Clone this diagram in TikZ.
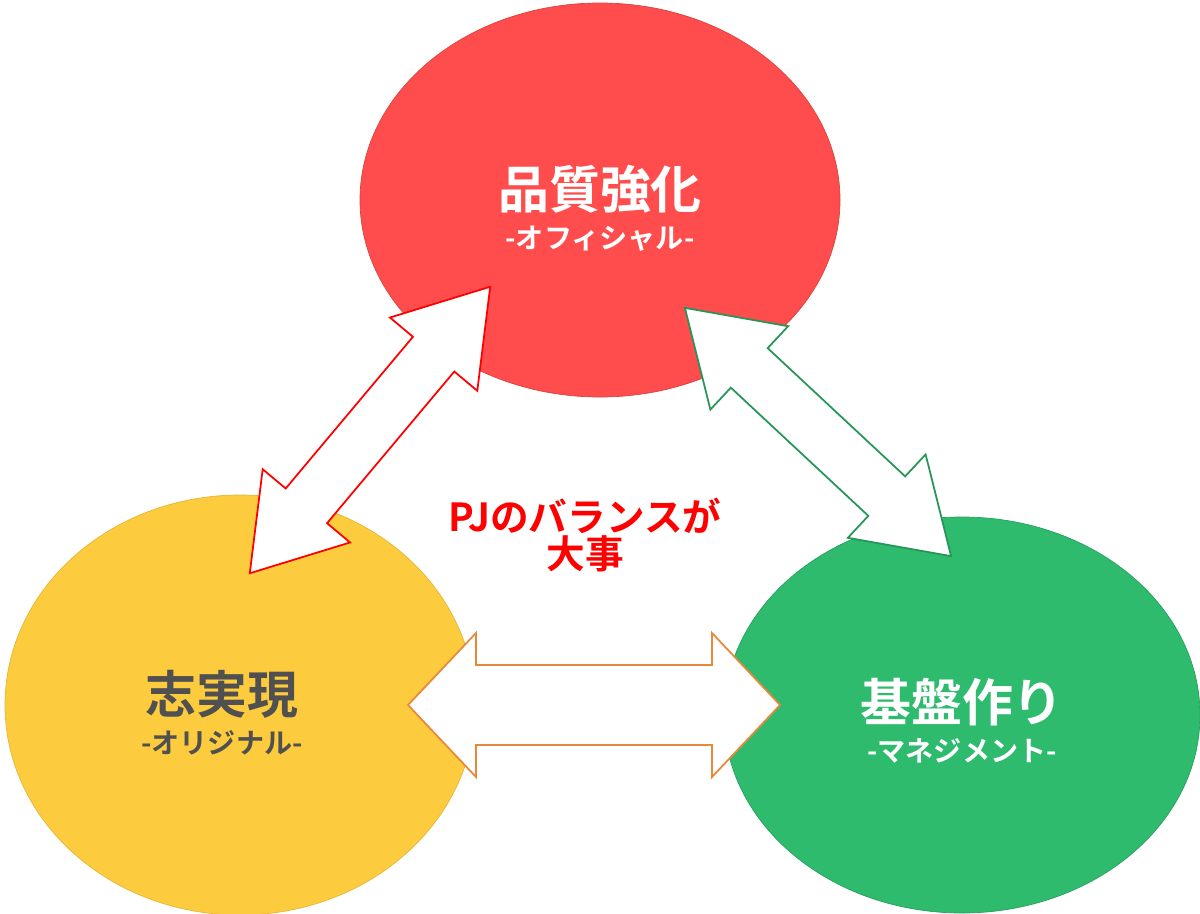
\documentclass[tikz,border=0pt]{standalone}
\usepackage{fontspec}
\newfontfamily\cjk{Noto Sans CJK JP}[BoldFont={Noto Sans CJK JP Bold}]
\definecolor{pjred}{HTML}{FF4D4D}
\definecolor{pjyellow}{HTML}{FDCB3E}
\definecolor{pjgreen}{HTML}{2EBB6E}
\definecolor{pjgray}{HTML}{505050}
\definecolor{pjorange}{HTML}{E8893A}
% double arrow: #1 length, #2 shaft half width, #3 head half width, #4 head length
\newcommand{\dblarrow}[4]{%
  (-#1/2,0) -- (-#1/2+#4,-#3) -- (-#1/2+#4,-#2) -- (#1/2-#4,-#2) -- (#1/2-#4,-#3) --
  (#1/2,0) -- (#1/2-#4,#3) -- (#1/2-#4,#2) -- (-#1/2+#4,#2) -- (-#1/2+#4,#3) -- cycle}
\begin{document}
\begin{tikzpicture}[x=0.02cm,y=-0.02cm,font=\cjk\bfseries]

\tikzstyle{dbl} = [fill=white, line width=1pt, line join=miter]

\useasboundingbox (0,0) rectangle (1200,913);

\draw[pjred!85!black, fill=pjred] (600,200) ellipse (240 and 197);
\draw[pjyellow!90!black, fill=pjyellow] (240,705) ellipse (235 and 210);
\draw[pjgreen!85!black, fill=pjgreen] (962,715) ellipse (238 and 198);

\draw[dbl, draw=red, shift={(370,430)}, rotate=50] \dblarrow{374}{27}{57}{88};
\draw[dbl, draw=pjgreen!80!black, shift={(818,432)}, rotate=-43] \dblarrow{364}{27}{57}{88};
\draw[dbl, draw=pjorange, shift={(594,705)}] \dblarrow{372}{40}{72}{68};

\node (quality) [text=white, align=center] at (600,208) {{\fontsize{29}{34}\selectfont 品質強化}\\[6pt]{\fontsize{16}{20}\selectfont -オフィシャル-}};
\node (dream) [text=pjgray, align=center] at (222,713) {{\fontsize{29}{34}\selectfont 志実現}\\[6pt]{\fontsize{16}{20}\selectfont -オリジナル-}};
\node (base) [text=white, align=center] at (962,721) {{\fontsize{29}{34}\selectfont 基盤作り}\\[6pt]{\fontsize{16}{20}\selectfont -マネジメント-}};
\node (balance) [text=red, align=center] at (585,535) {{\fontsize{22}{30}\selectfont PJのバランスが}\\{\fontsize{22}{30}\selectfont 大事}};

\end{tikzpicture}
\end{document}
